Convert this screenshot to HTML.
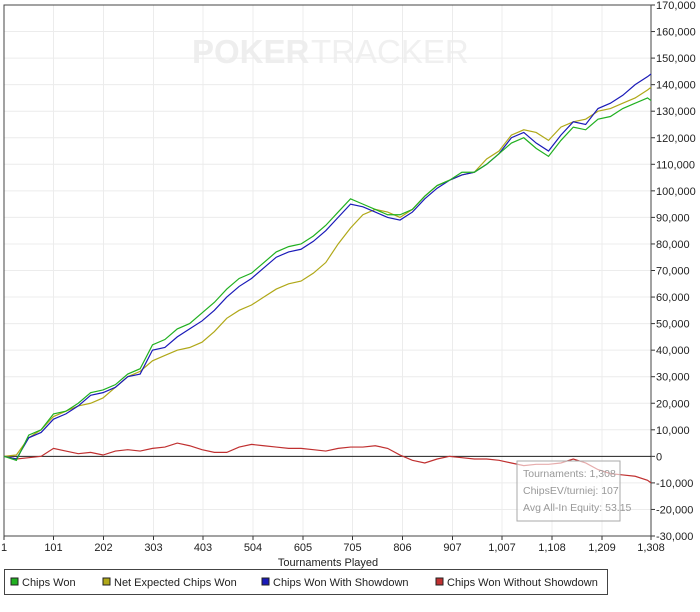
<!DOCTYPE html>
<html><head><meta charset="utf-8"><style>
body{margin:0;background:#fff;width:700px;height:607px;overflow:hidden;font-family:"Liberation Sans",sans-serif;}
svg text{font-family:"Liberation Sans",sans-serif;}
</style></head><body>
<svg id="c" width="700" height="607">
<text x="192" y="63" font-size="33" font-weight="bold" fill="#eeeeee">POKER</text>
<text x="311" y="63" font-size="33" fill="#f0f0f0">TRACKER</text>
</svg>
<script>
const ticksX=[1,101,202,303,403,504,605,705,806,907,1007,1108,1209,1308];
const ticksY=[-30000,-20000,-10000,0,10000,20000,30000,40000,50000,60000,70000,80000,90000,100000,110000,120000,130000,140000,150000,160000,170000];
const tourn=[1,26,51,76,101,126,151,176,201,226,251,276,301,326,351,376,401,426,451,476,501,526,551,576,601,626,651,676,701,726,751,776,801,826,851,876,901,926,951,976,1001,1026,1051,1076,1101,1126,1151,1176,1201,1226,1251,1276,1301,1308];
const chipsWon=[0,-1500,8000,10000,16000,17000,20000,24000,25000,27000,31000,33000,42000,44000,48000,50000,54000,58000,63000,67000,69000,73000,77000,79000,80000,83000,87000,92000,97000,95000,93000,91000,91000,93000,98000,102000,104000,107000,107000,110000,114000,118000,120000,116000,113000,119000,124000,123000,127000,128000,131000,133000,135000,134000];
const netExpected=[0,500,7000,10000,15000,17000,19000,20000,22000,26000,30000,32000,36000,38000,40000,41000,43000,47000,52000,55000,57000,60000,63000,65000,66000,69000,73000,80000,86000,91000,93000,92000,90000,93000,98000,102000,104000,106000,107000,112000,115000,121000,123000,122000,119000,124000,126000,127000,130000,131000,133000,135000,138000,139000];
const withShowdown=[0,-1000,7000,9000,14000,16000,19000,23000,24000,26000,30000,31000,40000,41000,45000,48000,51000,55000,60000,64000,67000,71000,75000,77000,78000,81000,85000,90000,95000,94000,92000,90000,89000,92000,97000,101000,104000,106000,107000,110000,114000,120000,122000,118000,115000,121000,126000,125000,131000,133000,136000,140000,143000,144000];
const withoutShowdown=[0,-1000,-500,0,3000,2000,1000,1500,500,2000,2500,2000,3000,3500,5000,4000,2500,1500,1500,3500,4500,4000,3500,3000,3000,2500,2000,3000,3500,3500,4000,3000,500,-1500,-2500,-1000,0,-500,-1000,-1000,-1500,-2500,-3500,-3000,-3000,-2500,-1000,-2500,-5000,-6500,-7000,-7500,-9000,-10000];
const NS="http://www.w3.org/2000/svg";
const svg=document.getElementById('c');
const L=4,R=651,T=5,B=536;
const xs=t=>L+(t-1)/(1308-1)*(R-L);
const ys=v=>B-(v+30000)/200000*(B-T);
function mk(tag,a,p){const e=document.createElementNS(NS,tag);for(const k in a)e.setAttribute(k,a[k]);(p||svg).appendChild(e);return e;}
ticksX.forEach(t=>{const g=mk('line',{x1:xs(t),x2:xs(t),y1:T,y2:B,stroke:'#ececec'});


const tk=mk('line',{x1:xs(t),x2:xs(t),y1:B,y2:B+4,stroke:'#333'});


const lb=mk('text',{x:xs(t),y:B+15,'font-size':11,'text-anchor':'middle',fill:'#222'});lb.textContent=t.toLocaleString('en-US');

});
ticksY.forEach(v=>{const g=mk('line',{x1:L,x2:R,y1:ys(v),y2:ys(v),stroke:'#ececec'});


const tk=mk('line',{x1:R,x2:R+4,y1:ys(v),y2:ys(v),stroke:'#333'});


const lb=mk('text',{x:R+5,y:ys(v)+4,'font-size':11,fill:'#222'});lb.textContent=v.toLocaleString('en-US');

});
const fr=mk('rect',{x:L,y:T,width:R-L,height:B-T,fill:'none',stroke:'#444'});


const zl=mk('line',{x1:L,x2:R,y1:ys(0),y2:ys(0),stroke:'#222'});


function series(arr,col,name){const p=mk('polyline',{points:arr.map((v,i)=>xs(tourn[i])+','+ys(v)).join(' '),fill:'none',stroke:col,'stroke-width':1.2});

}
series(withoutShowdown,'#c03030','line-chips-won-without-showdown');
series(netExpected,'#b0a818','line-net-expected-chips-won');
series(withShowdown,'#1a1ab8','line-chips-won-with-showdown');
series(chipsWon,'#20b020','line-chips-won');
const tb=mk('rect',{x:517,y:461,width:103,height:60,fill:'rgba(255,255,255,0.6)',stroke:'#aaa'});


['Tournaments: 1,308','ChipsEV/turniej: 107','Avg All-In Equity: 53.15'].forEach((s,i)=>{const t=mk('text',{x:523,y:477+i*17,'font-size':10.5,fill:'#999'});t.textContent=s;

});
const xt=mk('text',{x:328,y:566,'font-size':11,'text-anchor':'middle',fill:'#222'});xt.textContent='Tournaments Played';


const lg=mk('rect',{x:4.5,y:569.5,width:603,height:25,fill:'#fff',stroke:'#444'});


[['Chips Won','#20b020',11],['Net Expected Chips Won','#b0a818',103],['Chips Won With Showdown','#1a1ab8',262],['Chips Won Without Showdown','#c03030',436]].forEach(([s,c,x])=>{
const r=mk('rect',{x:x,y:578,width:7,height:7,fill:c,stroke:'#222'});


const t=mk('text',{x:x+11,y:586,'font-size':11,fill:'#222'});t.textContent=s;

});
</script>
</body></html>
